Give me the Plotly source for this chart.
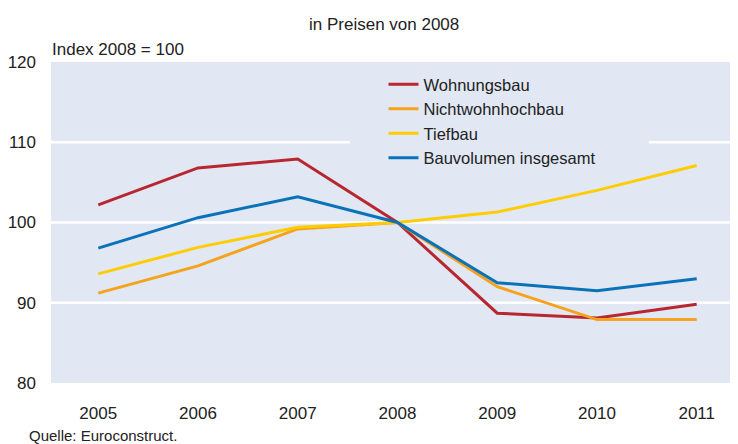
import plotly.graph_objects as go

years = [2005, 2006, 2007, 2008, 2009, 2010, 2011]
wohnungsbau = [102.2, 106.8, 107.9, 100.0, 88.7, 88.1, 89.8]
nichtwohnhochbau = [91.2, 94.6, 99.2, 100.0, 92.0, 87.9, 87.9]
tiefbau = [93.6, 96.9, 99.4, 100.0, 101.3, 104.0, 107.1]
bauvolumen = [96.8, 100.6, 103.2, 100.0, 92.5, 91.5, 93.0]

series_names = ["Wohnungsbau", "Nichtwohnhochbau", "Tiefbau", "Bauvolumen insgesamt"]
series_values = [wohnungsbau, nichtwohnhochbau, tiefbau, bauvolumen]
colors = ["#B8272F", "#F5A21C", "#FFCC00", "#0A72B8"]

y_ticks = [80, 90, 100, 110, 120]

FONT = "Liberation Sans, Arial, sans-serif"
TXT = "#222222"
BG = "#E1E8F4"

fig = go.Figure()
for name, vals, col in zip(series_names, series_values, colors):
    fig.add_trace(go.Scatter(x=years, y=vals, name=name, mode="lines",
                             line=dict(color=col, width=3)))

# gridlines drawn as shapes so the 110 line can leave room for the legend
grid_shapes = []
for v in y_ticks[1:-1]:
    if v == 110:
        segs = [(0.0, 0.435), (0.870, 1.0)]
    else:
        segs = [(0.0, 1.0)]
    for a, b in segs:
        grid_shapes.append(dict(type="line", xref="paper", yref="y",
                                x0=a, x1=b, y0=v, y1=v,
                                line=dict(color="white", width=2.5),
                                layer="below"))

# the page body adds an 8px offset, so the figure is 730x436
fig.update_layout(
    width=730, height=436,
    margin=dict(l=43, r=0, t=54, b=61),
    paper_bgcolor="white",
    plot_bgcolor=BG,
    font=dict(family=FONT, size=17, color=TXT),
    showlegend=True,
    legend=dict(x=0.484, xanchor="left", y=0.984, yanchor="top",
                bgcolor="rgba(0,0,0,0)", font=dict(size=16.5, color=TXT),
                itemwidth=30, tracegroupgap=0),
    xaxis=dict(range=[2004.526, 2011.414], tickvals=years,
               ticktext=[str(y) for y in years], showgrid=False,
               zeroline=False, showline=False, ticks="",
               ticklabelstandoff=18, tickfont=dict(size=17), automargin=False),
    yaxis=dict(range=[80, 120], tickvals=y_ticks, showgrid=False,
               zeroline=False, showline=False, ticks="", ticklabelstandoff=14,
               tickfont=dict(size=17), automargin=False),
    shapes=grid_shapes,
    annotations=[
        dict(text="in Preisen von 2008", xref="paper", yref="paper",
             x=0.484, y=1.0, yshift=38, xanchor="center", yanchor="middle",
             showarrow=False, font=dict(size=17, color=TXT)),
        dict(text="Index 2008 = 100", xref="paper", yref="paper",
             x=0.0, y=1.0, xshift=-1, yshift=13, xanchor="left", yanchor="middle",
             showarrow=False, font=dict(size=17, color=TXT)),
        dict(text="Quelle: Euroconstruct.", xref="paper", yref="paper",
             x=0.0, y=0.0, xshift=-24, yshift=-52, xanchor="left", yanchor="middle",
             showarrow=False, font=dict(size=15, color=TXT)),
    ],
)

fig.write_html("out.html")
